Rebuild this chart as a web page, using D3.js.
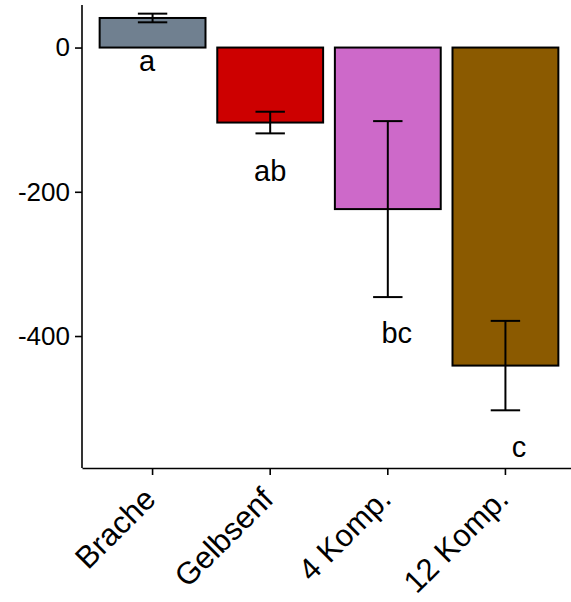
<!DOCTYPE html>
<html>
<head>
<meta charset="utf-8">
<script src="https://cdn.jsdelivr.net/npm/d3@7"></script>
<style>
  body { margin: 0; background: #fff; }
  text { font-family: "Liberation Sans", Arial, sans-serif; fill: #000; }
</style>
</head>
<body>
<svg id="chart" width="571" height="602"></svg>
<script>
// values
const categories = ["Brache", "Gelbsenf", "4 Komp.", "12 Komp."];
const means = [41, -104, -224, -441];
const errors = [6, 15, 122, 62];
const colors = ["#708090", "#CD0000", "#CD69C9", "#8B5A00"];
const letters = ["a", "ab", "bc", "c"];
const letterY = [-21, -174, -399, -557];
const letterNudge = [-0.047, 0, 0.076, 0.115]; // in steps
const yTicks = [0, -200, -400];

const svg = d3.select("#chart");
const panelLeft = 82, panelRight = 576, panelTop = 5, panelBottom = 468;

const x = d3.scaleBand()
    .domain(categories)
    .range([panelLeft, panelRight])
    .paddingInner(0.1)
    .paddingOuter(0.15);

const y = d3.scaleLinear()
    .domain([59, -583])
    .range([panelTop, panelBottom]);

const data = categories.map(function (c, i) {
    return { cat: c, mean: means[i], se: errors[i], color: colors[i], letter: letters[i], ly: letterY[i], nudge: letterNudge[i] };
});

// bars
svg.selectAll("rect.bar")
    .data(data)
    .enter()
    .append("rect")
    .attr("class", "bar")
    .attr("x", d => x(d.cat))
    .attr("width", x.bandwidth())
    .attr("y", d => y(Math.max(0, d.mean)))
    .attr("height", d => Math.abs(y(d.mean) - y(0)))
    .attr("fill", d => d.color)
    .attr("stroke", "#000")
    .attr("stroke-width", 2);

// error bars
const whisker = x.step() * 0.25 / 2;
const eb = svg.selectAll("g.err")
    .data(data)
    .enter()
    .append("g")
    .attr("class", "err")
    .attr("stroke", "#000")
    .attr("stroke-width", 2);

eb.append("line")
    .attr("x1", d => x(d.cat) + x.bandwidth() / 2)
    .attr("x2", d => x(d.cat) + x.bandwidth() / 2)
    .attr("y1", d => y(d.mean + d.se))
    .attr("y2", d => y(d.mean - d.se));
eb.append("line")
    .attr("x1", d => x(d.cat) + x.bandwidth() / 2 - whisker)
    .attr("x2", d => x(d.cat) + x.bandwidth() / 2 + whisker)
    .attr("y1", d => y(d.mean + d.se))
    .attr("y2", d => y(d.mean + d.se));
eb.append("line")
    .attr("x1", d => x(d.cat) + x.bandwidth() / 2 - whisker)
    .attr("x2", d => x(d.cat) + x.bandwidth() / 2 + whisker)
    .attr("y1", d => y(d.mean - d.se))
    .attr("y2", d => y(d.mean - d.se));

// letters
svg.selectAll("text.letter")
    .data(data)
    .enter()
    .append("text")
    .attr("class", "letter")
    .attr("x", d => x(d.cat) + x.bandwidth() / 2 + d.nudge * x.step())
    .attr("y", d => y(d.ly))
    .attr("dy", "0.27em")
    .attr("text-anchor", "middle")
    .style("font-size", "29px")
    .text(d => d.letter);

// axes
const yAxis = svg.append("g")
    .attr("transform", "translate(" + panelLeft + ",0)")
    .call(d3.axisLeft(y).tickValues(yTicks).tickFormat(d => String(d))
        .tickSize(7).tickPadding(5).tickSizeOuter(0));
yAxis.select(".domain").attr("stroke", "#000").attr("stroke-width", 1.6)
    .attr("d", "M0," + panelTop + "V" + panelBottom);
yAxis.selectAll(".tick line").attr("stroke", "#000").attr("stroke-width", 1.6);
yAxis.selectAll(".tick text").style("font-size", "26px").attr("fill", "#000");

const xAxis = svg.append("g")
    .attr("transform", "translate(0," + panelBottom + ")")
    .call(d3.axisBottom(x).tickSize(7).tickSizeOuter(0));
xAxis.select(".domain").attr("stroke", "#000").attr("stroke-width", 1.6);
xAxis.selectAll(".tick line").attr("stroke", "#000").attr("stroke-width", 1.6);
xAxis.selectAll(".tick text")
    .style("font-size", "31px")
    .attr("fill", "#000")
    .attr("text-anchor", "end")
    .attr("y", 0)
    .attr("dy", 0)
    .attr("transform", "translate(5,33) rotate(-45)");
</script>
</body>
</html>
